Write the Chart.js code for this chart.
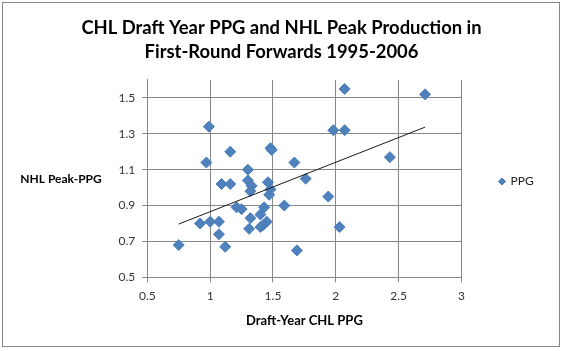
<!DOCTYPE html>
<html>
<head>
<meta charset="utf-8">
<script src="https://cdn.jsdelivr.net/npm/chart.js@4.4.0/dist/chart.umd.min.js"></script>
<style>
  html, body { margin: 0; padding: 0; background: #fff; }
  #wrap { position: relative; width: 562px; height: 351px; }
  #frame { position: absolute; left: 2px; top: 2px; width: 556px; height: 343px; border: 1px solid #868686; pointer-events: none; }
</style>
</head>
<body>
<div id="wrap">
  <canvas id="chart" width="562" height="351"></canvas>
  <div id="frame"></div>
</div>
<script>
// Draft-year CHL points per game (x) vs NHL peak points per game (y)
const draftPPG = [0.75, 0.99, 0.97, 1.16, 0.92, 1.00, 1.07, 1.07, 1.12, 1.09,
                  1.16, 1.21, 1.25, 1.30, 1.30, 1.33, 1.32, 1.32, 1.31, 1.40,
                  1.43, 1.45, 1.42, 1.40, 1.46, 1.48, 1.47, 1.48, 1.49, 1.59,
                  1.67, 1.69, 1.76, 1.94, 1.98, 2.03, 2.07, 2.07, 2.43, 2.71];
const peakPPG  = [0.68, 1.34, 1.14, 1.20, 0.80, 0.81, 0.81, 0.74, 0.67, 1.02,
                  1.02, 0.89, 0.88, 1.10, 1.04, 1.01, 0.98, 0.83, 0.77, 0.85,
                  0.89, 0.81, 0.79, 0.78, 1.03, 0.99, 0.96, 1.22, 1.21, 0.90,
                  1.14, 0.65, 1.05, 0.95, 1.32, 0.78, 1.55, 1.32, 1.17, 1.52];
const xTickLabels = ['0.5', '1', '1.5', '2', '2.5', '3'];
const yTickLabels = ['0.5', '0.7', '0.9', '1.1', '1.3', '1.5'];

const FONT = 'Lato, "Open Sans", sans-serif';
const GRID = '#878787';

const points = draftPPG.map((x, i) => ({ x: x, y: peakPPG[i] }));

// linear trendline (least squares), like Excel's
function trendline(xs, ys) {
  const n = xs.length;
  const mx = xs.reduce((a, b) => a + b, 0) / n;
  const my = ys.reduce((a, b) => a + b, 0) / n;
  let sxy = 0, sxx = 0;
  for (let i = 0; i < n; i++) {
    sxy += (xs[i] - mx) * (ys[i] - my);
    sxx += (xs[i] - mx) * (xs[i] - mx);
  }
  const slope = sxy / sxx;
  const lo = Math.min(...xs), hi = Math.max(...xs);
  return [{ x: lo, y: my + slope * (lo - mx) }, { x: hi, y: my + slope * (hi - mx) }];
}

// y axis title is horizontal in the original, so draw it ourselves
const yTitlePlugin = {
  id: 'yTitle',
  afterDraw(chart) {
    const ctx = chart.ctx;
    ctx.save();
    ctx.font = 'bold 12px ' + FONT;
    ctx.fillStyle = '#000';
    ctx.textAlign = 'center';
    ctx.textBaseline = 'middle';
    ctx.fillText('NHL Peak-PPG', 61, 179);
    ctx.restore();
  }
};

new Chart(document.getElementById('chart'), {
  type: 'scatter',
  data: {
    datasets: [{
      label: 'PPG',
      data: points,
      pointStyle: 'rectRot',
      pointRadius: 5.5,
      pointHoverRadius: 5.5,
      backgroundColor: '#4F81BD',
      borderColor: '#4A7EBB',
      borderWidth: 1,
      order: 1
    }, {
      label: 'Linear (PPG)',
      data: trendline(draftPPG, peakPPG),
      showLine: true,
      pointRadius: 0,
      borderColor: '#1a1a1a',
      borderWidth: 1,
      order: 0
    }]
  },
  options: {
    responsive: false,
    animation: false,
    devicePixelRatio: 1,
    layout: { padding: { left: 19.3, right: 18.3, top: 12, bottom: 0 } },
    plugins: {
      title: {
        display: true,
        text: ['CHL Draft Year PPG and NHL Peak Production in', 'First-Round Forwards 1995-2006'],
        font: { family: FONT, size: 18.4, weight: 'bold', lineHeight: 1.3043 },
        color: '#000',
        padding: { top: 4, bottom: 16 }
      },
      legend: {
        position: 'right',
        labels: {
          usePointStyle: true,
          boxWidth: 5,
          boxHeight: 5,
          padding: 38,
          color: '#222',
          font: { family: FONT, size: 12 },
          filter: item => item.text === 'PPG'
        }
      },
      tooltip: { enabled: false }
    },
    scales: {
      x: {
        type: 'linear',
        min: 0.5,
        max: 3,
        afterBuildTicks: scale => { scale.ticks = xTickLabels.map(t => ({ value: parseFloat(t) })); },
        afterFit: scale => { scale.height = 73.7; },
        ticks: {
          padding: 7,
          color: '#333',
          font: { family: FONT, size: 12 },
          callback: (v, i) => xTickLabels[i]
        },
        grid: { color: GRID, tickLength: 5, lineWidth: 1 },
        border: { color: GRID },
        title: {
          display: true,
          text: 'Draft-Year CHL PPG',
          color: '#000',
          font: { family: FONT, size: 13, weight: 'bold' },
          padding: { top: 4, bottom: 22 }
        }
      },
      y: {
        type: 'linear',
        min: 0.5,
        max: 1.6,
        afterBuildTicks: scale => { scale.ticks = yTickLabels.map(t => ({ value: parseFloat(t) })); },
        afterFit: scale => { scale.width = 128; },
        ticks: {
          padding: 7,
          color: '#333',
          font: { family: FONT, size: 12 },
          callback: (v, i) => yTickLabels[i]
        },
        grid: { color: GRID, tickLength: 5, lineWidth: 1 },
        border: { color: GRID }
      }
    }
  },
  plugins: [yTitlePlugin]
});
</script>
</body>
</html>
